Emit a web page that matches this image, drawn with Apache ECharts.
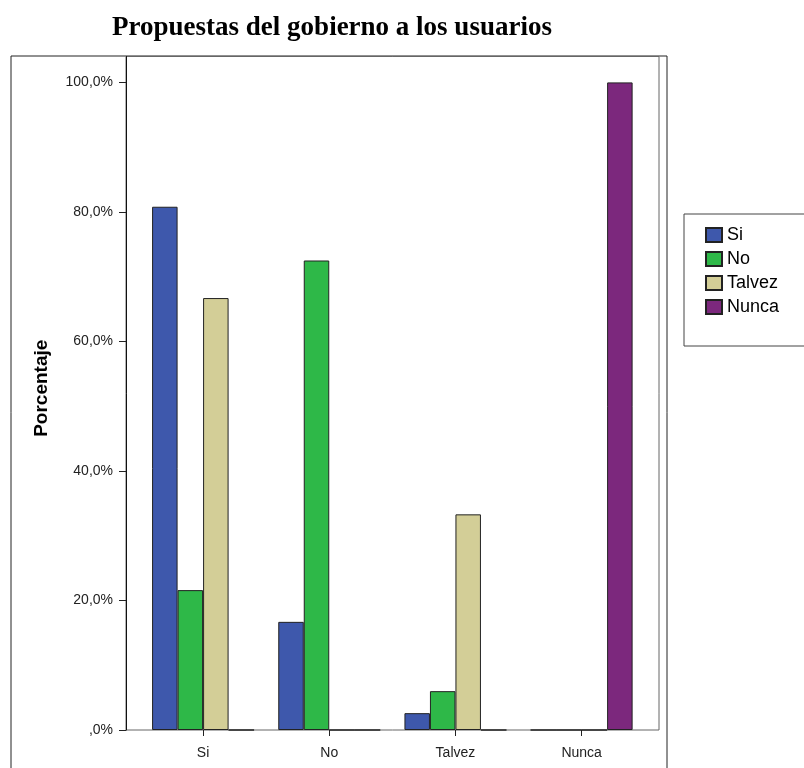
<!DOCTYPE html>
<html>
<head>
<meta charset="utf-8">
<script src="https://cdn.jsdelivr.net/npm/echarts@6/dist/echarts.min.js"></script>
<style>html,body{margin:0;padding:0;background:#fff}#c{width:804px;height:768px}</style>
</head>
<body>
<div id="c"></div>
<script>
const categories = ['Si', 'No', 'Talvez', 'Nunca'];
const seriesNames = ['Si', 'No', 'Talvez', 'Nunca'];
const siValues = [80.8, 16.7, 2.6, 0];
const noValues = [21.6, 72.5, 6.0, 0];
const talvezValues = [66.7, 0, 33.3, 0];
const nuncaValues = [0, 0, 0, 100];
const yTicks = [0, 20, 40, 60, 80, 100];
const colors = ['#3E58AC', '#2EB848', '#D3CE97', '#7C287D'];

const allValues = [siValues, noValues, talvezValues, nuncaValues];
const font = 'Liberation Sans, Arial, sans-serif';
const chart = echarts.init(document.getElementById('c'), null, {renderer: 'canvas'});

chart.setOption({
  animation: false,
  backgroundColor: '#fff',
  title: {
    text: 'Propuestas del gobierno a los usuarios',
    left: 327, top: 10, textAlign: 'center',
    textStyle: {fontFamily: 'Liberation Serif, Times New Roman, serif', fontWeight: 'bold', fontSize: 27, color: '#000'}
  },
  graphic: [
    {type: 'rect', shape: {x: 11, y: 56, width: 656, height: 760}, style: {fill: 'none', stroke: '#222', lineWidth: 1}, z: 0},
    {type: 'rect', shape: {x: 126, y: 56.5, width: 533, height: 673.5}, style: {fill: 'none', stroke: '#666', lineWidth: 1}, z: 0}
  ],
  legend: {
    orient: 'vertical',
    left: 684, top: 214,
    padding: [12, 60, 30, 21],
    borderColor: '#444', borderWidth: 1,
    itemWidth: 16, itemHeight: 14, itemGap: 6,
    icon: 'rect',
    textStyle: {fontFamily: font, fontSize: 18, color: '#000'},
    data: seriesNames
  },
  grid: {left: 140, right: 159.3, top: 56.5, bottom: 38, containLabel: false},
  xAxis: {
    type: 'category',
    data: categories,
    axisLine: {show: false},
    axisTick: {show: true, alignWithLabel: true, length: 6, lineStyle: {color: '#222'}},
    axisLabel: {fontFamily: font, fontSize: 14, color: '#222', margin: 16},
    splitLine: {show: false}
  },
  yAxis: {
    type: 'value',
    min: 0, max: 104,
    offset: 14,
    name: 'Porcentaje',
    nameLocation: 'middle',
    nameGap: 75,
    nameTextStyle: {fontFamily: font, fontSize: 19, fontWeight: 'bold', color: '#000', padding: [0, 0, 0, 10]},
    axisLine: {show: true, lineStyle: {color: '#111', width: 1}},
    axisTick: {show: true, length: 7, customValues: yTicks, lineStyle: {color: '#222'}},
    axisLabel: {
      fontFamily: font, fontSize: 14, color: '#222', margin: 13,
      customValues: yTicks,
      formatter: v => v === 0 ? ',0%' : v.toFixed(1).replace('.', ',') + '%'
    },
    splitLine: {show: false}
  },
  series: seriesNames.map((n, i) => ({
    name: n,
    type: 'bar',
    data: allValues[i],
    barWidth: 25.5,
    barGap: '0%',
    itemStyle: {color: colors[i], borderColor: '#222', borderWidth: 1}
  }))
});
</script>
</body>
</html>
